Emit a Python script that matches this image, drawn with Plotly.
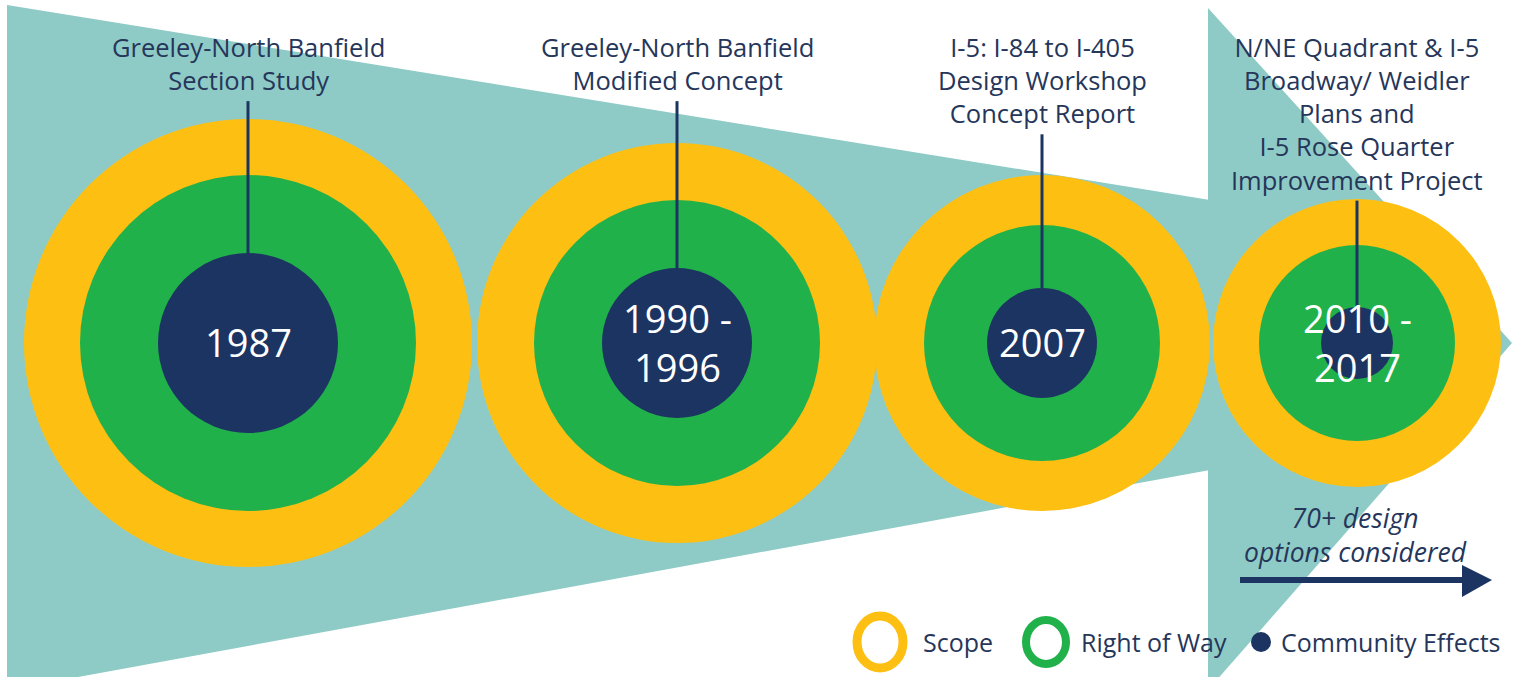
import plotly.graph_objects as go

# ---------------- data ----------------
project_labels = [
    ["Greeley-North Banfield", "Section Study"],
    ["Greeley-North Banfield", "Modified Concept"],
    ["I-5: I-84 to I-405", "Design Workshop", "Concept Report"],
    ["N/NE Quadrant & I-5", "Broadway/ Weidler", "Plans and", "I-5 Rose Quarter", "Improvement Project"],
]
periods = [["1987"], ["1990 -", "1996"], ["2007"], ["2010 -", "2017"]]
scope_size = [224, 200, 168, 144]        # outer ring (Scope)
right_of_way_size = [168, 143, 118, 98]  # middle ring (Right of Way)
community_size = [90, 75, 55, 36]        # inner dot (Community Effects)
legend_items = ["Scope", "Right of Way", "Community Effects"]
note_lines = ["70+ design", "options considered"]

# ---------------- layout / style ----------------
W, H = 1520, 677
centers_x = [248, 677, 1042, 1357]
center_y = 343
TEAL = "#8fcbc6"
YELLOW = "#fdbf12"
GREEN = "#21b14b"
NAVY = "#1c3462"
TEXT = "#25365a"
FONT = "Open Sans"
LABEL_SIZE = 25.5
LINE_H = LABEL_SIZE * 1.3
TOP_LINE = 46

shapes = []
annotations = []

# funnel background and arrow head
shapes.append(dict(type="path", path="M 7,5 L 1210,200 L 1210,470 L 7,690 Z",
                   fillcolor=TEAL, line=dict(width=0), layer="below"))
shapes.append(dict(type="path", path="M 1208,8 L 1512,343 L 1208,690 Z",
                   fillcolor=TEAL, line=dict(width=0), layer="below"))

for i, cx in enumerate(centers_x):
    for r, col in ((scope_size[i], YELLOW), (right_of_way_size[i], GREEN), (community_size[i], NAVY)):
        shapes.append(dict(type="circle", xref="x", yref="y",
                           x0=cx - r, x1=cx + r, y0=center_y - r, y1=center_y + r,
                           fillcolor=col, line=dict(width=0), layer="below"))
    lines = project_labels[i]
    annotations.append(dict(x=cx, y=TOP_LINE - LINE_H / 2, text="<br>".join(lines), showarrow=False,
                            xanchor="center", yanchor="top", align="center", borderpad=0,
                            font=dict(family=FONT, size=LABEL_SIZE, color=TEXT)))
    y_top = TOP_LINE + (len(lines) - 1) * LINE_H + 22
    shapes.append(dict(type="line", x0=cx, x1=cx, y0=y_top, y1=center_y - community_size[i],
                       line=dict(color=NAVY, width=3)))
    annotations.append(dict(x=cx, y=center_y - 1, text="<br>".join(periods[i]), showarrow=False,
                            xanchor="center", yanchor="middle", align="center",
                            font=dict(family=FONT, size=38, color="white")))

# note with arrow
annotations.append(dict(x=1355, y=535, text="<i>" + "<br>".join(note_lines) + "</i>", showarrow=False,
                        xanchor="center", yanchor="middle", align="center",
                        font=dict(family=FONT, size=26.5, color=TEXT)))
shapes.append(dict(type="line", x0=1240, x1=1466, y0=580, y1=580, line=dict(color=NAVY, width=6)))
shapes.append(dict(type="path", path="M 1462,565 L 1492,580 L 1462,597 Z",
                   fillcolor=NAVY, line=dict(width=0)))

# legend
shapes.append(dict(type="circle", x0=857, x1=903, y0=616, y1=668, line=dict(color=YELLOW, width=9)))
shapes.append(dict(type="circle", x0=1026, x1=1066, y0=620, y1=664, line=dict(color=GREEN, width=8)))
shapes.append(dict(type="circle", x0=1251, x1=1271, y0=632, y1=652, fillcolor=NAVY, line=dict(width=0)))
for x, t in zip([921, 1079, 1279], legend_items):
    annotations.append(dict(x=x, y=642, text=t, showarrow=False, xanchor="left", yanchor="middle",
                            font=dict(family=FONT, size=25, color=TEXT)))

fig = go.Figure()
fig.add_trace(go.Scatter(x=[0, W], y=[0, H], mode="markers", marker=dict(opacity=0),
                         hoverinfo="skip", showlegend=False))
fig.update_layout(
    width=W, height=H, margin=dict(l=0, r=0, t=0, b=0),
    paper_bgcolor="white", plot_bgcolor="white",
    xaxis=dict(range=[0, W], visible=False, fixedrange=True),
    yaxis=dict(range=[H, 0], visible=False, fixedrange=True),
    shapes=shapes, annotations=annotations, showlegend=False,
)
fig.write_html("out.html", post_script="document.body.style.margin='0';",
               config={"displayModeBar": False})
